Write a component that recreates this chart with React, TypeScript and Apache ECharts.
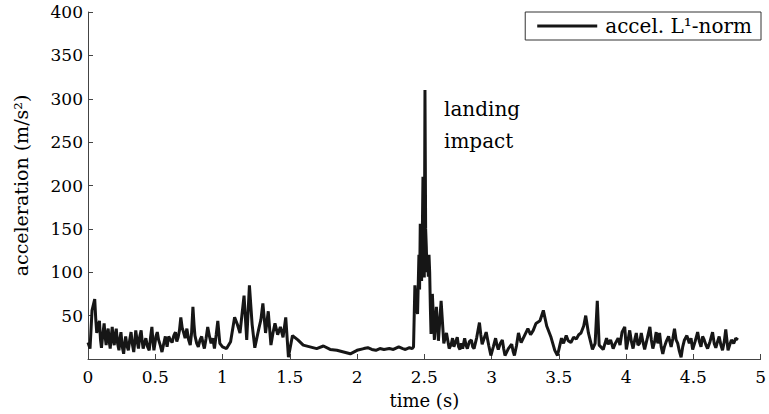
import React, { useEffect, useRef } from "react";
import * as echarts from "echarts";

const seriesName = "accel. L\u00b9-norm";

const times = [
  0.0, 0.015, 0.03, 0.05, 0.058, 0.065, 0.075, 0.085, 0.093, 0.1, 0.11, 0.12, 0.128, 0.135, 0.143, 0.15, 0.158, 0.165, 0.173, 0.18,
  0.188, 0.195, 0.203, 0.21, 0.22, 0.23, 0.238, 0.245, 0.255, 0.265, 0.273, 0.28, 0.29, 0.3, 0.31, 0.32, 0.33, 0.34, 0.348, 0.355,
  0.365, 0.375, 0.385, 0.395, 0.403, 0.41, 0.42, 0.43, 0.443, 0.455, 0.465, 0.475, 0.483, 0.49, 0.498, 0.505, 0.515, 0.525, 0.537, 0.55,
  0.562, 0.575, 0.588, 0.6, 0.612, 0.625, 0.638, 0.65, 0.66, 0.67, 0.68, 0.69, 0.7, 0.71, 0.722, 0.735, 0.748, 0.76, 0.77, 0.78,
  0.788, 0.795, 0.808, 0.82, 0.833, 0.845, 0.855, 0.865, 0.878, 0.89, 0.903, 0.915, 0.928, 0.94, 0.953, 0.965, 0.98,
  1.0, 1.03, 1.06, 1.09, 1.11, 1.13, 1.16, 1.18, 1.2, 1.22, 1.24, 1.255, 1.27, 1.285, 1.3, 1.32, 1.34, 1.36, 1.375, 1.39,
  1.41, 1.43, 1.45, 1.47, 1.49, 1.52, 1.56, 1.6, 1.65, 1.7, 1.75, 1.8, 1.85, 1.9, 1.95, 2.0, 2.05, 2.08, 2.11, 2.14,
  2.17, 2.2, 2.24, 2.27, 2.31, 2.34, 2.36, 2.39, 2.41, 2.42, 2.43, 2.44, 2.45, 2.46, 2.465, 2.47, 2.475, 2.48, 2.485, 2.49,
  2.495, 2.5, 2.505, 2.51, 2.515, 2.52, 2.525, 2.53, 2.535, 2.54, 2.545, 2.55, 2.56, 2.575, 2.59, 2.605, 2.625, 2.645, 2.665, 2.685,
  2.7, 2.71, 2.72, 2.733, 2.745, 2.755, 2.765, 2.775, 2.785, 2.8, 2.81, 2.82, 2.835, 2.85, 2.86, 2.87, 2.89, 2.91, 2.92, 2.93,
  2.945, 2.96, 2.98, 2.995, 3.013, 3.03, 3.04, 3.05, 3.065, 3.08, 3.09, 3.1, 3.125, 3.15, 3.16, 3.17, 3.185, 3.2, 3.21, 3.22,
  3.245, 3.27, 3.29, 3.31, 3.33, 3.36, 3.385, 3.41, 3.44, 3.47, 3.49, 3.505, 3.52, 3.535, 3.555, 3.57, 3.59, 3.61, 3.63, 3.648,
  3.665, 3.685, 3.7, 3.72, 3.75, 3.77, 3.786, 3.8, 3.83, 3.855, 3.867, 3.885, 3.904, 3.92, 3.941, 3.955, 3.97, 3.99, 4.002, 4.015,
  4.027, 4.04, 4.052, 4.064, 4.076, 4.088, 4.1, 4.113, 4.125, 4.138, 4.158, 4.177, 4.188, 4.199, 4.212, 4.224, 4.236, 4.249, 4.261, 4.273,
  4.285, 4.298, 4.316, 4.335, 4.348, 4.36, 4.372, 4.384, 4.396, 4.409, 4.421, 4.434, 4.452, 4.47, 4.483, 4.495, 4.513, 4.532, 4.545, 4.557,
  4.569, 4.581, 4.594, 4.606, 4.624, 4.643, 4.655, 4.667, 4.68, 4.692, 4.705, 4.717, 4.73, 4.741, 4.758, 4.77, 4.783, 4.8, 4.815, 4.832,
];

const accel = [
  19, 12, 56, 69, 45, 30, 38, 44, 22, 13, 28, 41, 25, 16, 30, 35, 20, 12, 26, 37,
  22, 16, 28, 35, 18, 10, 24, 31, 14, 6, 18, 26, 15, 10, 22, 31, 17, 8, 20, 33,
  21, 12, 26, 33, 20, 12, 18, 24, 14, 10, 25, 37, 20, 10, 18, 26, 31, 22, 16, 8,
  17, 26, 14, 26, 22, 19, 27, 31, 20, 25, 33, 48, 36, 31, 24, 35, 22, 16, 30, 60,
  40, 27, 18, 14, 22, 26, 18, 12, 24, 37, 26, 18, 24, 12, 28, 44, 18,
  14, 12, 20, 48, 40, 30, 73, 22, 85, 40, 13, 24, 35, 45, 64, 30, 55, 16, 30, 41,
  28, 37, 25, 48, 2, 27, 22, 16, 14, 12, 15, 11, 10, 8, 6, 10, 12, 13, 11, 10,
  12, 11, 12, 11, 14, 12, 11, 13, 12, 14, 85, 60, 52, 120, 80, 156, 100, 90, 140, 210,
  110, 94, 310, 150, 129, 100, 117, 95, 120, 100, 60, 29, 75, 22, 60, 21, 67, 18, 30, 12,
  17, 24, 14, 20, 25, 14, 11, 18, 12, 24, 16, 12, 20, 22, 14, 12, 25, 42, 28, 17,
  24, 31, 15, 4, 14, 24, 16, 11, 18, 22, 12, 4, 12, 17, 9, 4, 15, 30, 24, 19,
  27, 35, 28, 33, 41, 44, 56, 38, 26, 10, 4, 14, 24, 18, 27, 21, 19, 25, 23, 28,
  30, 38, 50, 30, 11, 18, 67, 16, 11, 24, 17, 22, 12, 18, 24, 16, 31, 37, 11, 22,
  33, 20, 12, 22, 30, 16, 18, 30, 20, 11, 24, 37, 22, 12, 20, 31, 18, 30, 14, 6,
  14, 20, 26, 14, 24, 35, 22, 18, 9, 2, 14, 22, 27, 18, 24, 11, 20, 31, 20, 14,
  26, 22, 16, 12, 20, 31, 18, 13, 20, 26, 16, 10, 20, 34, 10, 16, 22, 18, 24, 22,
];

const xTicks = [0, 0.5, 1, 1.5, 2, 2.5, 3, 3.5, 4, 4.5, 5];
const yTicks = [50, 100, 150, 200, 250, 300, 350, 400];

const FONT = "DejaVu Serif";

export default function App() {
  const ref = useRef<HTMLDivElement>(null);
  useEffect(() => {
    document.body.style.margin = "0";
    if (!ref.current) return;
    const chart = echarts.init(ref.current, undefined, { renderer: "svg" });
    const data = times.map((t, i) => [t, accel[i]]);
    chart.setOption({
      animation: false,
      backgroundColor: "#ffffff",
      grid: { left: 88, right: 2, top: 12, bottom: 55, containLabel: false },
      legend: {
        data: [seriesName],
        right: 8,
        top: 12,
        icon: "rect",
        itemWidth: 60,
        itemHeight: 3,
        itemGap: 10,
        padding: [4, 9, 4, 12],
        borderColor: "#333",
        borderWidth: 1,
        backgroundColor: "#fff",
        textStyle: { fontFamily: FONT, fontSize: 20, color: "#000", padding: [0, 0, 0, 3] },
      },
      xAxis: {
        type: "value",
        min: xTicks[0],
        max: xTicks[xTicks.length - 1],
        interval: 0.5,
        name: "time (s)",
        nameLocation: "middle",
        nameGap: 32,
        nameTextStyle: { fontFamily: FONT, fontSize: 18, color: "#000" },
        axisLine: { show: true, lineStyle: { color: "#444", width: 1 } },
        axisTick: { show: true, inside: true, length: 5, lineStyle: { color: "#444" } },
        axisLabel: {
          fontFamily: FONT,
          fontSize: 17,
          color: "#000",
          margin: 9,
          formatter: (v: number) => String(v),
        },
        splitLine: { show: false },
      },
      yAxis: {
        type: "value",
        min: 0,
        max: yTicks[yTicks.length - 1],
        interval: 50,
        name: "acceleration (m/s\u00b2)",
        nameLocation: "middle",
        nameGap: 58,
        nameRotate: 90,
        nameTextStyle: { fontFamily: FONT, fontSize: 19, color: "#000" },
        axisLine: { show: true, lineStyle: { color: "#444", width: 1 } },
        axisTick: { show: true, inside: true, length: 5, lineStyle: { color: "#444" } },
        axisLabel: {
          fontFamily: FONT,
          fontSize: 17,
          color: "#000",
          margin: 5,
          formatter: (v: number) => (yTicks.includes(v) ? String(v) : ""),
        },
        splitLine: { show: false },
      },
      graphic: [
        {
          type: "text",
          left: 444,
          top: 93,
          style: {
            text: "landing\nimpact",
            font: `20px "${FONT}"`,
            lineHeight: 32,
            fill: "#000",
          },
        },
      ],
      series: [
        {
          name: seriesName,
          type: "line",
          data,
          showSymbol: false,
          symbol: "none",
          lineStyle: { color: "#161616", width: 3 },
          itemStyle: { color: "#161616" },
        },
      ],
    });
    return () => chart.dispose();
  }, []);
  return <div ref={ref} style={{ width: 769, height: 414, position: "absolute", left: 0, top: 0 }} />;
}
